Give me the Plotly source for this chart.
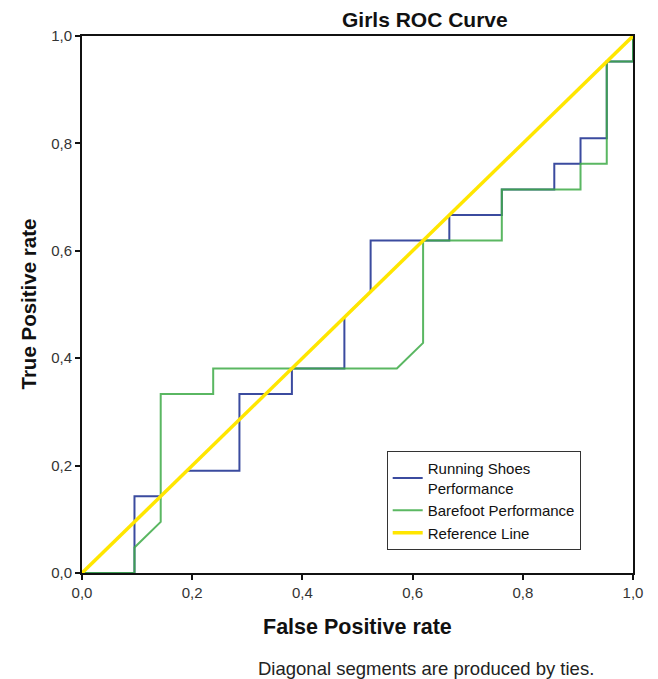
import plotly.graph_objects as go

# Data (fractions of 21)
running_fpr = [0, 2, 2, 3, 4, 6, 6, 8, 8, 10, 10, 11, 11, 14, 14, 16, 16, 18, 18, 19, 19, 20, 20, 21, 21]
running_tpr = [0, 0, 3, 3, 4, 4, 7, 7, 8, 8, 10, 11, 13, 13, 14, 14, 15, 15, 16, 16, 17, 17, 20, 20, 21]
barefoot_fpr = [0, 2, 2, 3, 3, 5, 5, 12, 13, 13, 16, 16, 19, 19, 20, 20, 21, 21]
barefoot_tpr = [0, 0, 1, 2, 7, 7, 8, 8, 9, 13, 13, 15, 15, 16, 16, 20, 20, 21]
denom = 21.0
ref_x = [0, 1]
ref_y = [0, 1]
tick_vals = [0, 0.2, 0.4, 0.6, 0.8, 1.0]
tick_text = ["0,0", "0,2", "0,4", "0,6", "0,8", "1,0"]

blue = "#3b4b9f"
green = "#3eab47"
yellow = "#ffe600"

fig = go.Figure()
fig.add_trace(go.Scatter(x=[v / denom for v in running_fpr], y=[v / denom for v in running_tpr],
                         mode="lines", name="Running Shoes<br>Performance",
                         line=dict(color=blue, width=2)))
fig.add_trace(go.Scatter(x=[v / denom for v in barefoot_fpr], y=[v / denom for v in barefoot_tpr],
                         mode="lines", name="Barefoot Performance", opacity=0.85,
                         line=dict(color=green, width=2)))
fig.add_trace(go.Scatter(x=ref_x, y=ref_y, mode="lines", name="Reference Line",
                         line=dict(color=yellow, width=3.5)))

font = "Liberation Sans, Arial, sans-serif"
fig.update_layout(
    width=658, height=679,
    margin=dict(l=74, r=33, t=28, b=114),
    paper_bgcolor="white", plot_bgcolor="white",
    font=dict(family=font, color="#222222"),
    showlegend=True,
    legend=dict(x=0.553, y=0.227, xanchor="left", yanchor="top",
                bordercolor="#333333", borderwidth=1, bgcolor="white",
                font=dict(size=15, family=font, color="#111111"),
                tracegroupgap=0, itemwidth=30),
    annotations=[
        dict(text="<b>Girls ROC Curve</b>", x=0.6225, y=1.0298, xref="paper", yref="paper",
             xanchor="center", yanchor="middle", showarrow=False, font=dict(size=21, color="#111111")),
        dict(text="<b>False Positive rate</b>", x=0.5, y=-0.1006, xref="paper", yref="paper",
             xanchor="center", yanchor="middle", showarrow=False, font=dict(size=21.5, color="#111111")),
        dict(text="<b>True Positive rate</b>", x=-0.098, y=0.5, xref="paper", yref="paper",
             xanchor="center", yanchor="middle", textangle=-90, showarrow=False,
             font=dict(size=20.5, color="#111111")),
        dict(text="Diagonal segments are produced by ties.", x=0.624, y=-0.177, xref="paper", yref="paper",
             xanchor="center", yanchor="middle", showarrow=False, font=dict(size=18.5, color="#222222")),
    ],
)
axis_common = dict(range=[0, 1], tickvals=tick_vals, ticktext=tick_text, showgrid=False, zeroline=False,
                   showline=True, linecolor="#111111", linewidth=2, mirror=True,
                   ticks="outside", ticklen=5, tickwidth=1.5, tickcolor="#111111",
                   tickfont=dict(size=15, color="#333333", family=font))
fig.update_xaxes(**axis_common)
fig.update_yaxes(**axis_common)

fig.write_html("out.html")
